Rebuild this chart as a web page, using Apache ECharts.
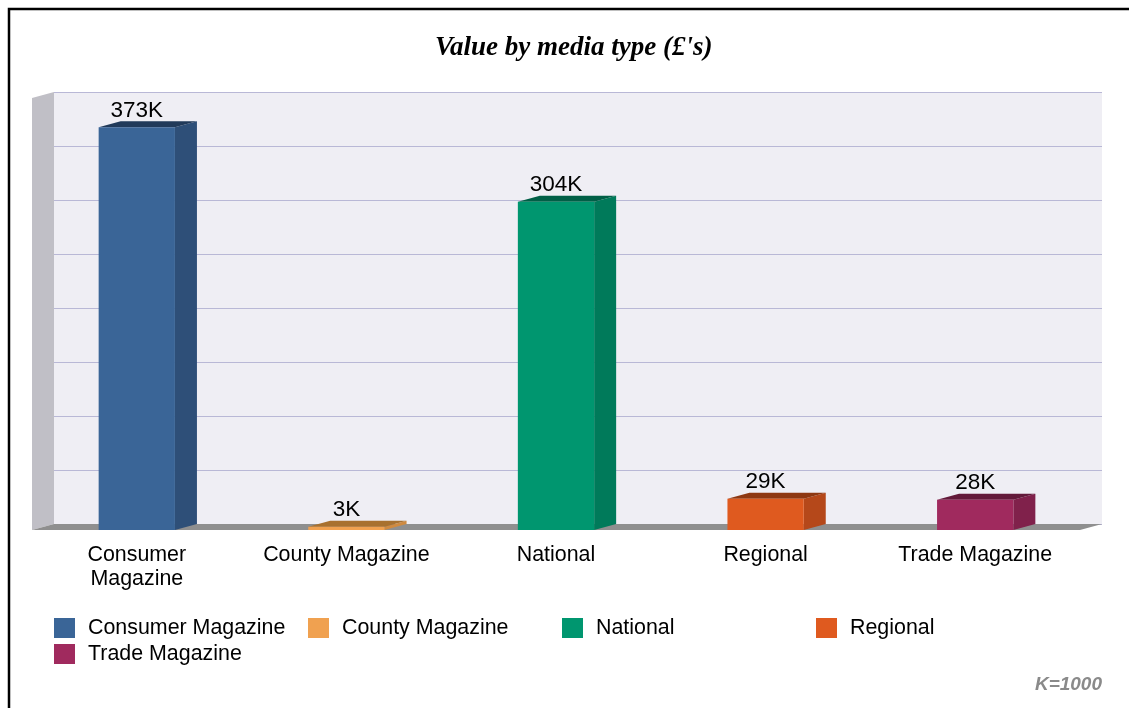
<!DOCTYPE html>
<html>
<head>
<meta charset="utf-8">
<script src="https://cdn.jsdelivr.net/npm/echarts@6/dist/echarts.min.js"></script>
<style>html,body{margin:0;padding:0;background:#fff;}#c{width:1129px;height:708px;}</style>
</head>
<body>
<div id="c"></div>
<script>
// Data
var categories = ['Consumer Magazine', 'County Magazine', 'National', 'Regional', 'Trade Magazine'];
var values = [373, 3, 304, 29, 28]; // thousands of £
var yTicks = { min: 0, max: 400, interval: 50 };

// Styles
var frontColors = ['#3a6597', '#f0a150', '#00966f', '#df5a1f', '#a02a5e'];
var sideColors  = ['#2e4f78', '#cf8a40', '#007a5a', '#b5481a', '#80214b'];
var topColors   = ['#213a5a', '#a8712f', '#005f46', '#8e3812', '#631a3a'];
var DX = 22, DY = -6;
var FONT = '"Liberation Sans", Arial, sans-serif';

var chart = echarts.init(document.getElementById('c'), null, { renderer: 'canvas' });

function renderBar(params, api) {
  var idx = params.seriesIndex - 1;
  var x = api.value(0), v = api.value(1);
  var top = api.coord([x, v]);
  var base = api.coord([x, 0]);
  var bw = api.size([1, 0])[0] * 0.364;
  var l = top[0] - bw / 2, r = top[0] + bw / 2;
  var ty = top[1], by = base[1];
  return {
    type: 'group',
    children: [
      { type: 'polygon', shape: { points: [[r, ty], [r + DX, ty + DY], [r + DX, by + DY], [r, by]] }, style: { fill: sideColors[idx] } },
      { type: 'polygon', shape: { points: [[l, ty], [l + DX, ty + DY], [r + DX, ty + DY], [r, ty]] }, style: { fill: topColors[idx] } },
      { type: 'rect', shape: { x: l, y: ty, width: bw, height: by - ty }, style: { fill: frontColors[idx] } },
      { type: 'text', x: top[0], y: ty - 16.5, style: { text: api.value(1) + 'K', fill: '#000', font: '22.5px ' + FONT, align: 'center', verticalAlign: 'middle' } }
    ]
  };
}

function renderWalls(params, api) {
  var cs = params.coordSys;
  var x = cs.x, y = cs.y, w = cs.width, h = cs.height;
  return {
    type: 'group',
    children: [
      { type: 'polygon', shape: { points: [[x, y], [x + DX, y + DY], [x + DX, y + h + DY], [x, y + h]] }, style: { fill: '#c0bfc6' } },
      { type: 'polygon', shape: { points: [[x, y + h], [x + DX, y + h + DY], [x + w + DX, y + h + DY], [x + w, y + h]] }, style: { fill: '#8f8f8f' } }
    ]
  };
}

var series = [{
  type: 'custom', name: '__walls', xAxisIndex: 0, yAxisIndex: 0, z: 1, clip: false, silent: true,
  renderItem: renderWalls, data: [[0, 0]]
}];
categories.forEach(function (c, i) {
  series.push({
    type: 'custom', name: c, xAxisIndex: 0, yAxisIndex: 0, z: 2, clip: false,
    itemStyle: { color: frontColors[i] },
    renderItem: renderBar, encode: { x: 0, y: 1 },
    data: [[i, values[i]]]
  });
});

var option = {
  backgroundColor: '#ffffff',
  animation: false,
  title: [
    { text: "Value by media type (£'s)", left: 435, top: 35, padding: 0,
      textStyle: { fontFamily: '"Liberation Serif", "Times New Roman", serif', fontStyle: 'italic', fontWeight: 'bold', fontSize: 27, color: '#000' } },
    { text: 'K=1000', right: 27, top: 675, padding: 0,
      textStyle: { fontFamily: FONT, fontStyle: 'italic', fontWeight: 'bold', fontSize: 19, color: '#8a8a8a' } }
  ],
  legend: {
    data: categories, left: 54, top: 615, width: 1040, itemWidth: 21, itemHeight: 20, itemGap: 0, padding: 0,
    icon: 'rect', selectedMode: false,
    textStyle: { fontFamily: FONT, fontSize: 21.4, color: '#000', width: 220, lineHeight: 24, padding: [2, 0, 0, 8] }
  },
  grid: [
    { left: 32, top: 98, width: 1048, height: 432 },
    { left: 32 + DX, top: 98 + DY, width: 1048, height: 432, show: true, backgroundColor: '#efeef4', borderWidth: 0, z: 0 }
  ],
  xAxis: [
    { type: 'category', gridIndex: 0, data: categories,
      axisLine: { show: false }, axisTick: { show: false },
      axisLabel: { interval: 0, margin: 13, fontFamily: FONT, fontSize: 21.4, color: '#000', lineHeight: 24,
        formatter: function (v) { return v.length > 16 ? v.replace(' ', '\n') : v; } } },
    { type: 'category', gridIndex: 1, data: categories, show: false }
  ],
  yAxis: [
    { type: 'value', gridIndex: 0, min: yTicks.min, max: yTicks.max, interval: yTicks.interval,
      axisLine: { show: false }, axisTick: { show: false }, axisLabel: { show: false }, splitLine: { show: false } },
    { type: 'value', gridIndex: 1, min: yTicks.min, max: yTicks.max, interval: yTicks.interval,
      axisLine: { show: false }, axisTick: { show: false }, axisLabel: { show: false },
      splitLine: { show: true, lineStyle: { color: '#b9b8d6', width: 1 } } }
  ],
  graphic: [
    { type: 'rect', shape: { x: 9, y: 9, width: 1300, height: 900 }, style: { fill: 'none', stroke: '#000', lineWidth: 2.5 }, z: 100, silent: true }
  ],
  series: series
};
chart.setOption(option);
</script>
</body>
</html>
